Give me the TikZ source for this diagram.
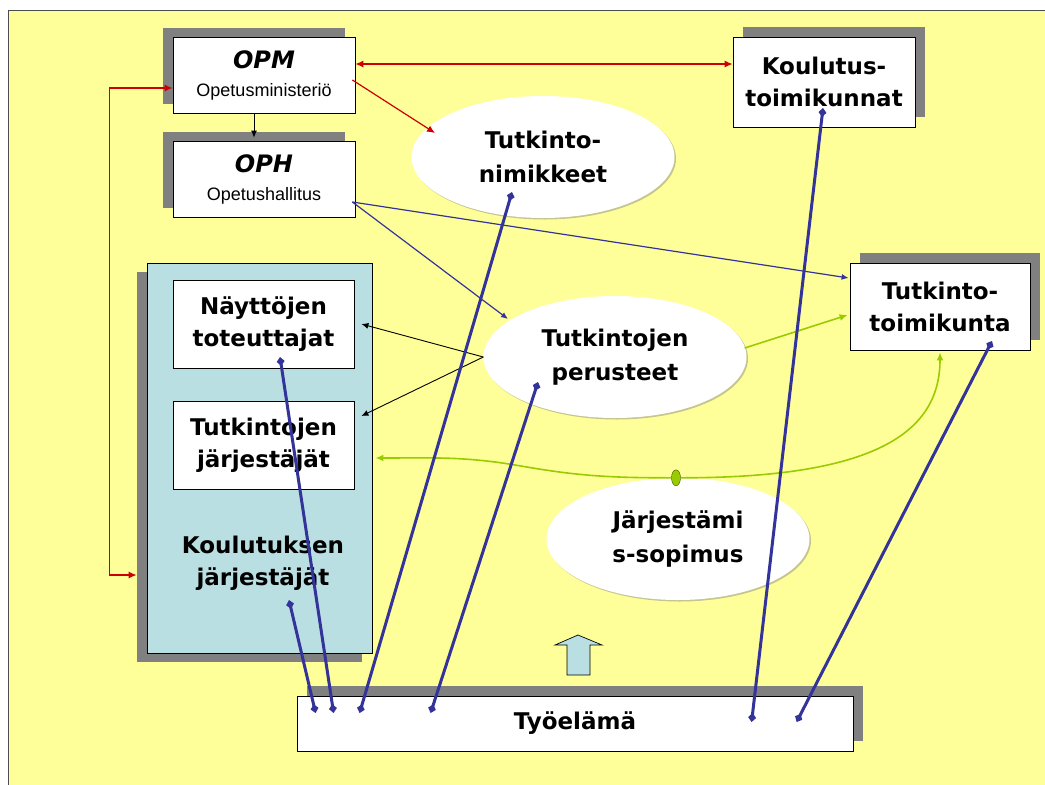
\documentclass[tikz,border=0pt]{standalone}
\usepackage{fontspec}
\newfontfamily\boxfont{DejaVu Sans}
\newfontfamily\subfont{Liberation Sans}
\usetikzlibrary{positioning}
\usetikzlibrary{shapes.geometric}
\usetikzlibrary{arrows.meta,shadows}

\definecolor{bgyellow}{HTML}{FFFF99}
\definecolor{shgray}{HTML}{808080}
\definecolor{kjblue}{HTML}{B9DFE2}
\definecolor{linkblue}{HTML}{333399}
\definecolor{linkred}{HTML}{CC0000}
\definecolor{linkgreen}{HTML}{99CC00}

\tikzset{
  box/.style={draw=black, line width=0.8pt, fill=white, inner sep=0pt, align=center,
    font=\boxfont\fontsize{23}{32}\selectfont\bfseries},
  subbox/.style={box, minimum width=182pt, minimum height=76pt,
    font=\subfont\fontsize{18}{28}\selectfont},
  shUL/.style={drop shadow={shadow xshift=-10pt, shadow yshift=9pt, opacity=1, fill=shgray}},
  shUR/.style={drop shadow={shadow xshift=10pt, shadow yshift=10pt, opacity=1, fill=shgray}},
  shDL/.style={drop shadow={shadow xshift=-10pt, shadow yshift=-9pt, opacity=1, fill=shgray}},
  ellnode/.style={ellipse, fill=white, inner sep=0pt, align=center,
    minimum width=263pt, minimum height=122pt,
    font=\boxfont\fontsize{23}{34}\selectfont\bfseries,
    drop shadow={shadow xshift=1.5pt, shadow yshift=-1.5pt, opacity=.45, fill=gray}},
  plaintext/.style={align=center, font=\boxfont\fontsize{23}{32}\selectfont\bfseries},
  gdot/.style={ellipse, draw=black!60!linkgreen, fill=linkgreen, inner sep=0pt,
    minimum width=9pt, minimum height=16pt},
  redln/.style={draw=linkred, line width=1.2pt, arrows={-Latex[length=8pt,width=7pt]}},
  blackln/.style={draw=black, line width=0.9pt, arrows={-Latex[length=7pt,width=6pt]}},
  blueln/.style={draw=linkblue, line width=1.2pt, arrows={-Latex[length=7pt,width=6pt]}},
  greenln/.style={draw=linkgreen, line width=1.6pt, arrows={-Latex[length=8pt,width=7pt]}},
  link/.style={draw=linkblue, line width=3pt,
    arrows={Diamond[length=9pt,width=8pt]-Diamond[length=9pt,width=8pt]}}
}

\begin{document}
\begin{tikzpicture}[x=1pt,y=-1pt]
\useasboundingbox (0,0) rectangle (1045,785);
\fill[white] (0,0) rectangle (1045,785);
\fill[bgyellow] (8,10) rectangle (1045,785);
\draw[black!70, line width=1pt] (8,785) -- (8,10) -- (1045,10);

% hallinto
\node[subbox, shUL] (opm) at (264,75)
  {{\boxfont\fontsize{24}{28}\selectfont\bfseries\itshape OPM}\\Opetusministeriö};
\node[subbox, shUL] (oph) at (264,179)
  {{\boxfont\fontsize{24}{28}\selectfont\bfseries\itshape OPH}\\Opetushallitus};
\node[box, shUR, minimum width=182pt, minimum height=90pt] (kt) at (824,82) {Koulutus-\\toimikunnat};
\node[box, shUR, minimum width=180pt, minimum height=87pt] (tt) at (940,306.5) {Tutkinto-\\toimikunta};

% koulutuksen järjestäjät
\node[box, shDL, fill=kjblue, minimum width=225pt, minimum height=390pt] (kj) at (259.5,458) {};
\node[box, minimum width=181pt, minimum height=88pt] (nt) at (263.5,324) {Näyttöjen\\toteuttajat};
\node[box, minimum width=181pt, minimum height=88pt] (tj) at (263.5,445) {Tutkintojen\\järjestäjät};
\node[plaintext] (kjt) at (263,563) {Koulutuksen\\järjestäjät};

% ellipsit
\node[ellnode] (nim) at (543,157) {Tutkinto-\\nimikkeet};
\node[ellnode] (per) at (615,357) {Tutkintojen\\perusteet};
\node[ellnode] (sop) at (678,539) {Järjestämi\\s-sopimus};

% työelämä
\node[box, shUR, minimum width=556pt, minimum height=55pt] (tyo) at (575,723.5) {Työelämä};
\draw[black, line width=0.7pt, fill=kjblue] (567,675) -- (590,675) -- (590,645) -- (602,645)
  -- (578,635) -- (555,645) -- (567,645) -- cycle;

% nuolet
\draw[redln, arrows={Latex[length=8pt,width=7pt]-Latex[length=8pt,width=7pt]}]
  ([shift={(0,-11)}]opm.east) -- ([shift={(0,-18)}]kt.west);
\draw[redln] ([shift={(-3,5)}]opm.east) -- ([shift={(-108,-24)}]nim.center);
\draw[redln, arrows={Latex[length=8pt,width=7pt]-Latex[length=8pt,width=7pt]}]
  ([shift={(0,13)}]opm.west) -- ++(-63,0) |- ([shift={(-10,117)}]kj.west);
\draw[blackln] ([shift={(-10,0)}]opm.south) -- ([shift={(-10,-3)}]oph.north);

\draw[blueln] ([shift={(-3,23)}]oph.east) -- ([shift={(-107,-38)}]per.center);
\draw[blueln] ([shift={(-3,23)}]oph.east) -- ([shift={(-1,-28.5)}]tt.west);

\draw[blackln] (per.west) -- ([shift={(7,0)}]nt.east);
\draw[blackln] (per.west) -- ([shift={(7,-29)}]tj.east);

\draw[greenln] ([shift={(-2,-9)}]per.east) -- ([shift={(-2,8.5)}]tt.west);
\node[gdot] (gd) at ([xshift=-2pt]sop.north) {};
\coordinate (kink) at (521,466);
\draw[greenln] (gd.east) .. controls (880,478) and (940,430) .. ([shift={(0,2)}]tt.south);
\draw[greenln] (gd.west) to[out=180,in=-10] (kink) to[out=170,in=0] ([shift={(21,13)}]tj.east);

% työelämän yhteydet
\draw[link] ([shift={(19,-10.5)}]tyo.west) -- ([shift={(29.5,142)}]kj.center);
\draw[link] ([shift={(37,-10.5)}]tyo.west) -- ([shift={(16.5,33)}]nt.center);
\draw[link] ([shift={(63,-10.5)}]tyo.west) -- ([shift={(-31,35)}]nim.center);
\draw[link] ([shift={(134,-10.5)}]tyo.west) -- ([shift={(-77,25)}]per.center);
\draw[link] ([shift={(455,-1.5)}]tyo.west) -- ([shift={(-1,26)}]kt.center);
\draw[link] ([shift={(500,-1.5)}]tyo.west) -- ([shift={(52,34.5)}]tt.center);
\end{tikzpicture}
\end{document}
